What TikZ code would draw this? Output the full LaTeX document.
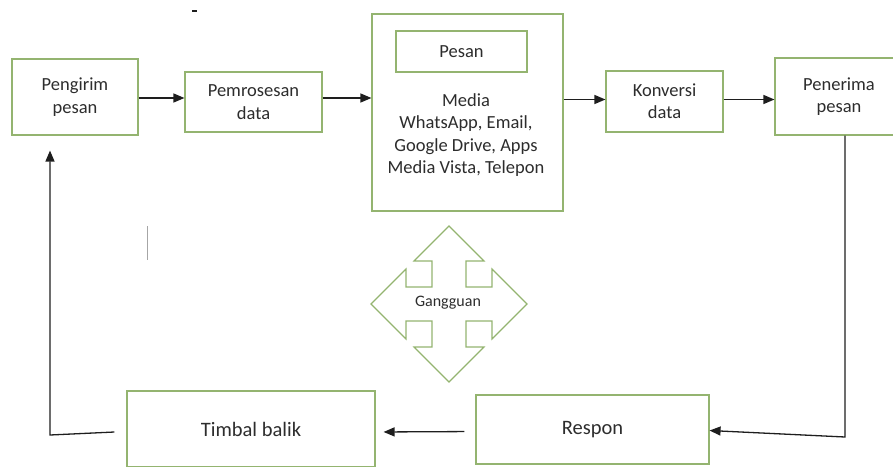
\documentclass[tikz,border=0pt]{standalone}
\usepackage{fontspec}
\setmainfont{Carlito}
\usetikzlibrary{arrows.meta,calc}
\definecolor{hijau}{RGB}{148,180,112}
\definecolor{garis}{RGB}{30,30,30}
\definecolor{teks}{RGB}{45,45,45}

\begin{document}
\begin{tikzpicture}[x=1pt,y=-1pt,
    kotak/.style={draw=hijau,line width=1.15pt,fill=white,inner sep=0pt,align=center,text=teks,
      font=\fontsize{18.5}{22.3}\selectfont},
    kotakbawah/.style={kotak,font=\fontsize{20.5}{24}\selectfont},
    panah/.style={draw=garis,line width=1.3pt,-{Triangle[length=11pt,width=9pt]}}]
        \useasboundingbox (0,0) rectangle (893,466);
        \clip (0,0) rectangle (893,466);

        % Boxes, top row
        \node[kotak,minimum width=126pt,minimum height=76pt] (pengirim) at (75,97) {Pengirim\\pesan};
        \node[kotak,minimum width=137pt,minimum height=60pt] (proses) at (253.5,102) {Pemrosesan\\data};
        \node[kotak,minimum width=191pt,minimum height=197pt] (media) at (467.5,112.5) {};
        \node[kotak,minimum width=131pt,minimum height=41pt] (pesan) at (461.5,51.5) {Pesan};
        \node[align=center,inner sep=0pt,text=teks,font=\fontsize{18.5}{22.3}\selectfont] (isi) at (466,135)
            {Media\\WhatsApp, Email,\\Google Drive, Apps\\Media Vista, Telepon};
        \node[kotak,minimum width=117pt,minimum height=61pt] (konversi) at (664.5,101.5) {Konversi\\data};
        \node[kotak,minimum width=128pt,minimum height=77pt] (penerima) at (839,96.5) {Penerima\\pesan};

        % Boxes, bottom row
        \node[kotakbawah,minimum width=248pt,minimum height=76pt] (timbal) at (251,429) {Timbal balik};
        \node[kotakbawah,minimum width=233pt,minimum height=69pt] (respon) at (592.5,429.5) {Respon};

        % Gangguan (four-way arrow)
        \draw[hijau,line width=1.15pt,shift={(449,304)}]
            (0,-78) -- (35,-43) -- (17,-43) -- (17,-17) -- (43,-17) -- (43,-35)
            -- (78,0) -- (43,35) -- (43,17) -- (17,17) -- (17,43) -- (35,43)
            -- (0,78) -- (-35,43) -- (-17,43) -- (-17,17) -- (-43,17) -- (-43,35)
            -- (-78,0) -- (-43,-35) -- (-43,-17) -- (-17,-17) -- (-17,-43) -- (-35,-43) -- cycle;
        \node[font=\fontsize{16}{18}\selectfont,text=teks,inner sep=0pt] (gangguan) at (448,303) {Gangguan};

        % Arrows
        \coordinate (belok) at (845,437);
        \coordinate (kiri) at (50,432);
        \draw[panah] ([yshift=-1pt]pengirim.east) -- ([yshift=-1pt]pengirim.east -| proses.west);
        \draw[panah] ([yshift=4pt]proses.east) -- ([yshift=4pt]proses.east -| media.west);
        \draw[panah] ([yshift=2pt]media.east |- konversi.west) -- ([yshift=2pt]konversi.west);
        \draw[panah] ([yshift=2pt]konversi.east) -- ([yshift=2pt]konversi.east -| penerima.west);
        \draw[panah] (penerima.south -| belok) -- (belok) -- ([yshift=-1pt]respon.east);
        \draw[panah,shorten <=11pt,shorten >=8pt] ([yshift=-2pt]respon.west) -- ([yshift=-3pt]timbal.east);
        \draw[panah,shorten >=15pt] ([xshift=-12pt,yshift=-3pt]timbal.west) -- ([yshift=-3pt]kiri) -- (kiri |- pengirim.south);

        % stray marks
        \draw[gray!70,line width=0.9pt] (147,226) -- (147,260);
        \draw[garis,line width=1.2pt] (192,11) -- (197,11);
\end{tikzpicture}
\end{document}
